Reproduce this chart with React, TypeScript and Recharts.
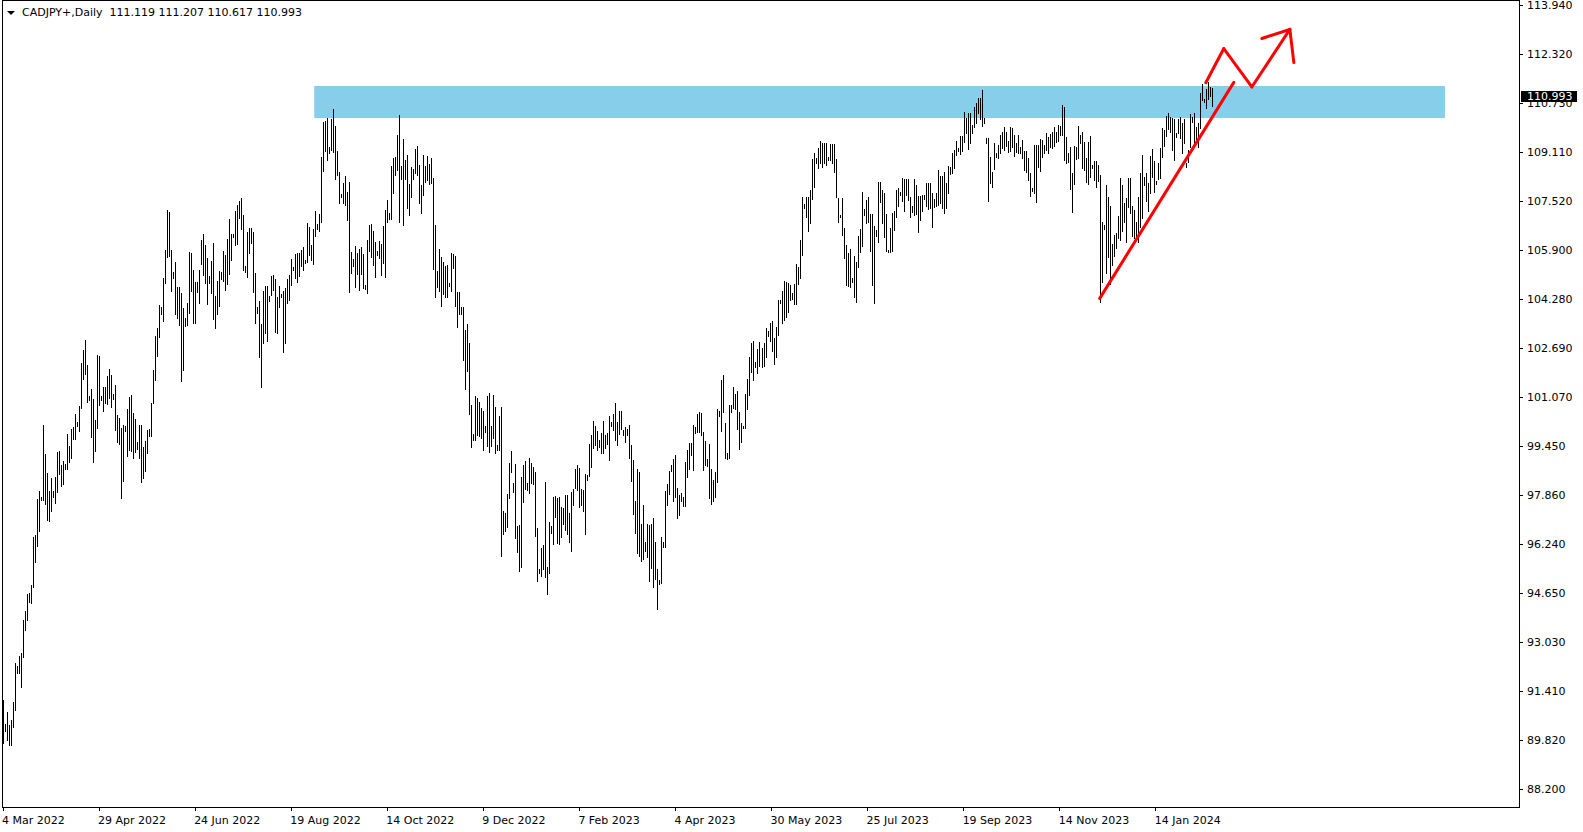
import React from 'react';
import { ComposedChart, Bar, XAxis, YAxis, ReferenceArea, ReferenceLine } from 'recharts';

const symbolTitle = 'CADJPY+,Daily';
const lastBarOHLC = [111.119, 111.207, 110.617, 110.993];

const highs = [
  91.13, 90.33, 90.72, 90.31, 90.48, 91.06, 92.33, 92.24, 92.57, 92.68,
  93.76, 94.05, 94.62, 94.64, 94.91, 96.48, 96.53, 97.73, 97.98, 97.80,
  100.15, 99.20, 98.58, 97.98, 98.42, 97.99, 98.44, 99.27, 99.31, 98.83,
  98.99, 98.89, 99.85, 99.47, 100.02, 100.09, 100.50, 100.26, 100.77, 102.19,
  102.62, 102.94, 102.14, 101.10, 101.33, 101.01, 100.33, 102.44, 102.42, 101.11,
  101.40, 101.40, 101.76, 102.00, 101.81, 101.16, 101.46, 100.47, 100.38, 100.07,
  100.14, 100.13, 100.68, 101.06, 101.13, 100.56, 100.35, 99.61, 100.14, 100.14,
  99.44, 99.63, 99.99, 100.01, 100.89, 101.97, 103.06, 103.33, 104.08, 104.02,
  104.97, 105.90, 107.21, 107.14, 105.91, 105.19, 105.50, 104.68, 104.68, 104.50,
  104.00, 103.68, 104.17, 105.83, 105.81, 105.23, 104.85, 104.85, 105.23, 106.23,
  106.41, 106.05, 105.63, 105.04, 105.55, 106.13, 104.38, 104.89, 105.21, 105.19,
  105.87, 105.75, 106.26, 106.90, 106.43, 106.41, 107.19, 107.36, 107.52, 107.62,
  107.06,
  105.37, 106.49, 106.62, 106.62, 106.49, 105.14, 104.04, 104.23, 103.47, 104.56,
  104.72, 104.72, 104.39, 105.05, 105.08, 104.95, 104.34, 104.72, 104.46, 104.56,
  104.66, 104.95, 105.08, 105.60, 105.35, 105.77, 105.79, 105.81, 105.90, 106.00,
  105.57, 106.79, 106.67, 106.07, 106.59, 107.18, 106.75, 107.08, 108.95, 110.10,
  110.13, 110.24, 109.29, 110.21, 110.53, 109.97, 109.15, 108.47, 107.74, 108.11,
  108.33, 107.81, 108.13, 105.83, 105.60, 106.03, 105.80, 105.93, 106.00, 105.77,
  104.74, 106.23, 106.72, 106.75, 106.52, 106.16, 105.88, 106.19, 106.10, 106.69,
  107.21, 107.54, 107.11, 108.66, 108.92, 108.95, 109.67, 110.33, 108.66, 109.54,
  108.85, 109.02, 108.07, 108.62, 108.56, 109.20, 109.31, 108.69, 108.03, 109.02,
  108.66, 108.98, 108.72, 108.92, 108.26, 106.72, 105.21, 105.93, 105.67, 105.51,
  105.37, 105.41, 104.83, 105.80, 105.77, 105.70, 104.52, 104.52, 104.03, 104.03,
  103.27, 103.47, 102.85, 100.81, 99.86, 101.11, 101.04, 100.91, 100.71, 100.62,
  100.12, 101.11, 101.20, 100.12, 101.14, 100.76, 99.50, 100.45, 100.74, 97.33,
  97.28, 97.89, 98.92, 99.30, 98.24, 98.88, 96.84, 96.87, 98.44, 98.84,
  98.99, 98.26, 99.06, 98.90, 98.79, 98.62, 96.76, 95.42, 96.11, 96.22,
  98.27, 95.51, 96.97, 96.85, 97.80, 97.83, 97.77, 97.80, 97.45, 97.42,
  97.86, 97.86, 97.26, 97.97, 98.06, 98.72, 98.84, 98.73, 98.04, 98.02,
  98.55, 98.50, 99.53, 99.83, 100.29, 100.12, 99.96, 99.66, 99.88, 100.29,
  99.83, 99.88, 100.45, 100.27, 100.52, 100.87, 100.27, 100.62, 100.62, 99.99,
  100.10, 100.01, 100.16, 99.50, 99.01, 97.66, 98.71, 98.62, 96.90, 97.53,
  96.33, 96.90, 96.87, 96.91, 97.09, 96.33, 95.43, 95.07, 96.49, 96.31,
  97.98, 98.22, 98.66, 98.84, 99.04, 99.17, 98.08, 97.86, 97.91, 97.80,
  98.95, 99.34, 99.55, 99.58, 100.16, 100.10, 100.51, 100.57, 100.56, 99.94,
  99.64, 99.04, 99.53, 98.70, 98.35, 98.62, 100.68, 100.62, 101.63, 101.80,
  100.23, 99.23, 100.81, 100.81, 101.41, 101.17, 101.28, 100.59, 100.23, 100.12,
  101.17, 101.67, 102.40, 102.84, 102.91, 102.23, 102.64, 102.89, 102.68, 102.86,
  103.33, 103.25, 103.51, 103.58, 103.00, 103.38, 104.26, 104.26, 104.56, 104.88,
  104.86, 104.81, 104.76, 104.48, 104.78, 105.44, 105.35, 106.23, 107.65, 107.41,
  107.65, 107.65, 107.87, 108.89, 109.08, 108.92, 109.25, 109.49, 109.40, 109.42,
  109.40, 108.96, 109.37, 109.37, 109.38, 108.90, 107.59, 107.05, 107.61, 106.62,
  106.07, 105.79, 105.94, 104.98, 105.70, 105.52, 106.37, 106.59, 107.80, 107.23,
  107.54, 107.65, 107.07, 107.07, 106.69, 106.56, 108.13, 108.13, 107.87, 107.76,
  107.07, 105.90, 106.63, 107.10, 107.19, 107.87, 107.94, 107.80, 108.25, 108.24,
  108.23, 108.23, 107.65, 107.34, 108.23, 108.03, 107.67, 107.67, 107.69, 107.72,
  108.09, 108.09, 108.11, 107.76, 107.56, 107.76, 108.52, 108.33, 108.33, 108.46,
  108.11, 108.66, 108.63, 109.07, 109.18, 109.48, 109.25, 109.64,
  109.64, 110.42, 110.22, 110.38, 110.41, 110.00, 110.58, 110.71, 110.88, 110.88,
  111.15, 110.22, 109.56, 109.56, 108.94, 108.47, 109.40, 109.07, 109.35, 109.67,
  109.78, 109.95, 109.78, 109.48, 109.95, 109.91, 109.67, 109.40, 109.67, 109.29,
  109.51, 109.16, 109.15, 108.91, 108.42, 107.94, 109.35, 109.33, 109.35, 109.53,
  109.51, 109.35, 109.75, 109.62, 109.70, 109.78, 109.95, 109.78, 110.00, 109.97,
  110.65, 110.58, 109.60, 109.07, 109.29, 108.42, 109.31, 109.29, 109.97, 109.66,
  109.78, 109.45, 108.91, 109.45, 109.64, 108.69, 108.83, 108.83, 108.68, 108.36,
  106.83, 106.71, 108.03, 107.65, 107.34, 106.10, 106.40, 106.45, 107.00, 108.25,
  108.03, 107.43, 107.59, 108.25, 108.25, 107.34, 107.21, 106.83, 107.65, 108.44,
  109.02, 108.31, 108.44, 108.09, 108.98, 109.20, 108.83, 108.17, 108.77, 109.24,
  109.89, 109.84, 110.30, 110.38, 110.25, 110.22, 110.19, 109.73, 110.19, 110.25,
  110.06, 110.19, 108.74, 109.18, 110.36, 110.25, 110.38, 109.95, 110.06, 111.05,
  111.35, 110.86, 111.18, 111.41, 111.25, 111.207,
];

const lows = [
  89.71, 90.11, 89.83, 89.64, 89.64, 90.24, 90.81, 92.02, 92.00, 91.56,
  92.54, 93.42, 93.74, 94.33, 94.31, 94.83, 95.67, 96.19, 96.67, 97.68,
  97.68, 97.56, 97.04, 97.00, 97.34, 97.80, 97.58, 97.96, 98.56, 98.16,
  98.23, 98.71, 98.71, 98.95, 99.07, 99.71, 99.71, 100.13, 99.97, 100.71,
  101.68, 101.82, 100.92, 100.97, 99.77, 98.93, 99.31, 100.07, 100.80, 100.97,
  100.60, 100.87, 100.86, 101.04, 100.74, 101.01, 99.99, 99.59, 99.54, 97.75,
  98.32, 99.97, 99.15, 99.35, 99.31, 99.07, 99.27, 99.37, 99.07, 98.27,
  98.42, 98.65, 99.25, 99.78, 99.78, 100.87, 101.64, 102.42, 103.04, 103.81,
  103.57, 104.80, 105.67, 105.69, 104.56, 104.97, 103.81, 103.66, 103.45, 101.61,
  101.97, 103.42, 103.45, 103.84, 104.56, 103.49, 103.49, 104.53, 104.17, 105.43,
  105.07, 104.83, 104.14, 104.83, 104.50, 103.64, 103.33, 103.81, 104.05, 104.95,
  104.89, 104.59, 104.77, 105.11, 105.57, 106.31, 106.07, 106.11, 106.96, 106.59,
  105.23,
  105.19, 105.02, 105.81, 106.14, 104.52, 103.51, 103.84, 102.40, 101.39, 102.86,
  103.19, 102.92, 104.24, 104.41, 104.59, 103.21, 103.19, 104.04, 104.35, 102.55,
  102.86, 104.17, 104.26, 104.76, 105.24, 104.99, 104.86, 105.06, 105.38, 105.24,
  105.46, 105.51, 105.74, 105.57, 105.45, 106.36, 106.59, 106.52, 106.83, 108.50,
  109.16, 108.85, 109.07, 109.18, 109.13, 108.24, 108.36, 107.45, 107.65, 107.45,
  107.38, 106.88, 104.53, 105.13, 105.38, 104.67, 105.12, 104.59, 105.12, 104.66,
  104.63, 104.50, 105.88, 105.68, 105.42, 105.02, 105.75, 105.62, 105.08, 105.48,
  105.02, 106.83, 106.92, 106.91, 107.78, 108.37, 108.52, 106.83, 108.22, 106.73,
  108.23, 107.28, 107.06, 107.65, 108.24, 108.44, 108.36, 107.45, 107.12, 107.70,
  108.14, 108.20, 108.07, 108.10, 105.29, 104.34, 104.70, 104.56, 104.07, 104.46,
  104.34, 104.34, 104.72, 104.56, 105.32, 104.07, 103.38, 103.79, 103.81, 102.30,
  101.35, 101.94, 100.53, 99.44, 99.67, 99.67, 99.82, 99.81, 99.74, 99.35,
  99.93, 99.45, 99.28, 99.45, 99.72, 99.25, 99.34, 99.34, 95.84, 96.58,
  96.69, 96.80, 97.75, 98.62, 97.94, 96.44, 96.00, 95.38, 95.51, 97.64,
  98.06, 98.02, 97.91, 98.26, 98.23, 96.52, 95.05, 95.31, 95.20, 95.42,
  95.18, 94.60, 95.29, 96.60, 96.25, 97.15, 96.29, 96.26, 96.49, 96.91,
  96.71, 96.58, 96.33, 96.02, 97.53, 98.08, 98.02, 97.45, 97.53, 97.33,
  96.58, 98.35, 98.48, 98.79, 99.39, 99.50, 99.34, 99.42, 99.23, 99.25,
  99.39, 99.53, 99.01, 100.12, 99.99, 99.66, 99.50, 99.85, 100.01, 99.82,
  99.60, 99.82, 99.06, 98.33, 97.24, 96.62, 95.94, 95.87, 95.70, 95.75,
  96.02, 95.81, 95.03, 95.45, 94.85, 95.09, 94.11, 94.93, 94.96, 96.14,
  96.14, 97.53, 97.89, 98.65, 97.66, 97.80, 97.09, 97.20, 97.67, 97.50,
  97.50, 98.46, 98.70, 99.17, 98.68, 99.90, 99.94, 99.94, 99.83, 98.68,
  98.84, 98.82, 97.75, 97.55, 97.67, 97.80, 98.30, 100.45, 99.97, 100.59,
  99.06, 99.03, 99.06, 100.59, 100.70, 100.67, 100.01, 99.36, 99.61, 100.05,
  100.05, 100.67, 101.14, 101.91, 101.63, 102.07, 101.85, 102.10, 102.07, 102.09,
  102.38, 103.08, 102.92, 102.60, 102.15, 102.40, 103.11, 104.15, 103.49, 103.60,
  103.69, 103.88, 104.26, 104.30, 104.13, 104.13, 104.78, 104.99, 105.72, 107.27,
  106.97, 106.53, 106.77, 107.56, 107.98, 108.77, 108.58, 108.74, 108.61, 108.74,
  108.69, 108.85, 108.85, 108.74, 108.47, 107.65, 106.83, 106.99, 106.38, 105.63,
  104.75, 104.72, 104.70, 104.84, 104.37, 104.20, 105.33, 105.84, 106.04, 107.05,
  106.77, 106.83, 105.88, 104.76, 104.17, 106.37, 106.15, 107.49, 106.80, 106.34,
  105.88, 105.84, 105.82, 105.88, 106.56, 106.97, 107.34, 107.70, 107.52, 107.18,
  107.70, 107.54, 106.99, 107.16, 107.06, 107.08, 106.49, 106.88, 107.19, 107.58,
  107.34, 107.23, 107.28, 106.66, 107.32, 107.34, 107.38, 107.43, 107.29, 107.12,
  107.27, 107.76, 108.39, 108.42, 108.58, 109.02, 109.16, 109.05,
  109.16, 109.45, 109.75, 109.20, 109.40, 109.73, 109.95, 110.08, 110.38, 110.19,
  109.97, 110.06, 109.42, 107.52, 108.11, 107.96, 108.55, 108.94, 108.91, 109.09,
  109.24, 109.18, 109.31, 109.13, 109.16, 109.29, 108.98, 109.13, 109.09, 109.09,
  108.91, 108.52, 108.47, 108.20, 107.67, 107.85, 107.76, 107.49, 108.63, 108.50,
  108.96, 109.09, 109.18, 109.09, 109.29, 109.24, 109.31, 109.45, 109.49, 109.67,
  109.67, 108.85, 108.74, 108.80, 107.89, 107.16, 108.07, 108.87, 108.91, 109.40,
  108.58, 108.52, 108.14, 108.05, 108.31, 108.58, 108.20, 107.96, 108.17, 104.20,
  104.86, 106.58, 105.13, 105.68, 104.78, 105.40, 105.70, 105.95, 106.30, 106.23,
  106.53, 106.83, 106.17, 107.32, 107.12, 106.36, 106.28, 106.34, 106.17, 106.66,
  106.94, 108.03, 107.52, 107.19, 107.76, 108.31, 107.81, 108.07, 108.22, 108.25,
  108.96, 109.31, 109.64, 109.86, 109.78, 109.18, 108.85, 109.60, 109.73, 109.56,
  109.07, 109.40, 108.61, 108.80, 109.27, 110.11, 109.40, 109.53, 109.29, 109.90,
  110.82, 110.76, 110.56, 110.85, 110.95, 110.617,
];

const dateLabels = [
  '4 Mar 2022', '29 Apr 2022', '24 Jun 2022', '19 Aug 2022', '14 Oct 2022',
  '9 Dec 2022', '7 Feb 2023', '4 Apr 2023', '30 May 2023', '25 Jul 2023',
  '19 Sep 2023', '14 Nov 2023', '14 Jan 2024',
];
const dateTickStep = 48;
const priceTicks = [
  113.94, 112.32, 110.73, 109.11, 107.52, 105.9, 104.28, 102.69, 101.07,
  99.45, 97.86, 96.24, 94.65, 93.03, 91.41, 89.82, 88.2,
];
const priceDomain = [87.618, 114.104];
const totalSlots = 758;

const resistanceZone = { x1: 156, x2: 720, y1: 110.23, y2: 111.28 };
const trendLinePoints = [{ x: 548, y: 104.31 }, { x: 615, y: 111.4 }];
const zigzagPoints = [
  { x: 601, y: 111.39 }, { x: 610, y: 112.51 }, { x: 624, y: 111.25 }, { x: 643, y: 113.14 },
];
const arrowHeadPoints = [{ x: 629, y: 112.84 }, { x: 643, y: 113.14 }, { x: 645, y: 112.05 }];

const FONT = '"DejaVu Sans", sans-serif';
const lastClose = lastBarOHLC[3];

const data = Array.from({ length: totalSlots }, (_, i) => ({
  i,
  hl: i < highs.length ? [lows[i], highs[i]] : null,
}));
const dateTickIdx = dateLabels.map((_, k) => k * dateTickStep);

const BarShape = (props: any) => {
  const { x, y, width, height } = props;
  if (x == null || y == null || isNaN(x) || isNaN(y)) return <g />;
  const cx = Math.floor(x + width / 2);
  const top = Math.round(Math.min(y, y + height));
  const bot = Math.round(Math.max(y, y + height));
  return (
    <rect x={cx} y={top} width={1} height={Math.max(1, bot - top + 1)} fill="#000" shapeRendering="crispEdges" />
  );
};

const PriceTick = (props: any) => {
  const { x, y, payload } = props;
  const v = Number(payload.value);
  const ry = Math.round(y);
  if (v === lastClose) {
    return (
      <g>
        <rect x={x + 2} y={ry - 4} width={56} height={11} fill="#000" />
        <text x={x + 8} y={ry + 1.5} fill="#fff" fontSize={11} fontFamily={FONT} dominantBaseline="central">
          {v.toFixed(3)}
        </text>
      </g>
    );
  }
  return (
    <g>
      <line x1={x} y1={ry + 0.5} x2={x + 4} y2={ry + 0.5} stroke="#000" strokeWidth={1} />
      <text x={x + 8} y={ry} fill="#000" fontSize={11} fontFamily={FONT} dominantBaseline="central">
        {v.toFixed(3)}
      </text>
    </g>
  );
};

const DateTick = (props: any) => {
  const { x, y, payload } = props;
  const idx = Number(payload.value);
  if (idx % dateTickStep !== 0) return <g />;
  const label = dateLabels[idx / dateTickStep];
  if (!label) return <g />;
  const px = Math.floor(x) + 0.5;
  return (
    <g>
      <line x1={px} y1={y} x2={px} y2={y + 4} stroke="#000" strokeWidth={1} />
      <text x={x - 1} y={y + 13} fill="#000" fontSize={11} fontFamily={FONT} dominantBaseline="central" textAnchor="start">
        {label}
      </text>
    </g>
  );
};

const redLine = { stroke: '#ff0000', strokeWidth: 3, strokeLinecap: 'round' as const };

export default function App() {
  return (
    <div style={{ position: 'absolute', left: 0, top: 0, width: 1583, height: 832, background: '#fff' }}>
      <ComposedChart
        width={1583}
        height={832}
        data={data}
        margin={{ top: 0, right: 0, bottom: 0, left: 2 }}
        style={{ fontFamily: FONT }}
      >
        <XAxis
          dataKey="i"
          type="category"
          height={25}
          interval={0}
          ticks={dateTickIdx}
          tickSize={0}
          tickMargin={0}
          axisLine={false}
          tickLine={false}
          tick={<DateTick />}
          padding={{ left: 0, right: 0 }}
        />
        <YAxis
          orientation="right"
          type="number"
          width={64}
          domain={priceDomain}
          allowDataOverflow
          ticks={[...priceTicks, lastClose]}
          interval={0}
          tickSize={0}
          tickMargin={0}
          axisLine={false}
          tickLine={false}
          tick={<PriceTick />}
        />
        <ReferenceArea
          x1={resistanceZone.x1}
          x2={resistanceZone.x2}
          y1={resistanceZone.y1}
          y2={resistanceZone.y2}
          fill="#87ceeb"
          fillOpacity={1}
          stroke="none"
        />
        <Bar dataKey="hl" barSize={1} isAnimationActive={false} shape={<BarShape />} />
        <ReferenceLine segment={trendLinePoints} {...redLine} />
        {zigzagPoints.slice(1).map((p, k) => (
          <ReferenceLine key={'z' + k} segment={[zigzagPoints[k], p]} {...redLine} />
        ))}
        {arrowHeadPoints.slice(1).map((p, k) => (
          <ReferenceLine key={'a' + k} segment={[arrowHeadPoints[k], p]} {...redLine} />
        ))}
      </ComposedChart>
      <div
        style={{
          position: 'absolute', left: 2, top: 0, width: 1518, height: 808,
          boxSizing: 'border-box', border: '1px solid #000', pointerEvents: 'none',
        }}
      />
      <svg style={{ position: 'absolute', left: 0, top: 0 }} width={20} height={20}>
        <polygon points="7,11 15,11 11,15" fill="#000" />
      </svg>
      <div
        style={{
          position: 'absolute', left: 22, top: 6, fontFamily: FONT, fontSize: 11,
          lineHeight: '13px', whiteSpace: 'pre', color: '#000',
        }}
      >
        {symbolTitle + '  ' + lastBarOHLC.map((v) => v.toFixed(3)).join(' ')}
      </div>
    </div>
  );
}
